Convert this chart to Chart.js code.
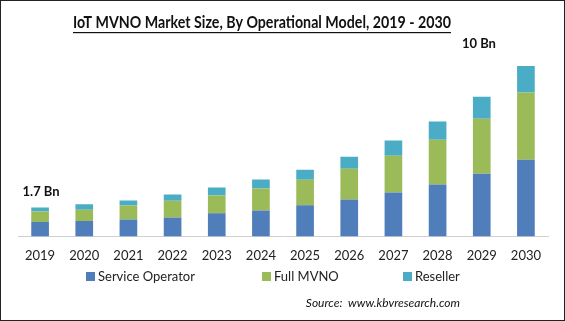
<!DOCTYPE html>
<html>
<head>
<meta charset="utf-8">
<script src="https://cdn.jsdelivr.net/npm/chart.js@4.4.1/dist/chart.umd.min.js"></script>
<style>
  html, body { margin: 0; padding: 0; background: #fff; }
  #wrap { width: 563px; height: 319px; border: 1px solid #222; position: relative; }
</style>
</head>
<body>
<div id="wrap"><canvas id="bar_chart"></canvas></div>
<script>
const years = ['2019', '2020', '2021', '2022', '2023', '2024', '2025', '2026', '2027', '2028', '2029', '2030'];
const serviceOperator = [0.84, 0.90, 0.99, 1.11, 1.36, 1.52, 1.83, 2.16, 2.57, 3.04, 3.68, 4.50];
const fullMvno = [0.62, 0.67, 0.82, 0.98, 1.04, 1.29, 1.50, 1.81, 2.16, 2.63, 3.22, 3.94];
const reseller = [0.24, 0.32, 0.29, 0.37, 0.47, 0.53, 0.58, 0.70, 0.90, 1.07, 1.29, 1.56];
const firstLabel = '1.7 Bn';
const lastLabel = '10 Bn';
const titleText = 'IoT MVNO Market Size, By Operational Model, 2019 - 2030';
const sourceText = 'Source:  www.kbvresearch.com';

const FONT = "Lato, 'Open Sans', sans-serif";
const legendX = [85, 261, 402];   // left edge of each legend box

// draws the underlined title, value labels, legend and source line
const extras = {
    id: 'extras',
    afterDraw(chart) {
        const c = chart.ctx;
        const x = chart.scales.x;
        const y = chart.scales.y;
        c.save();
        c.fillStyle = '#111';
        c.textBaseline = 'middle';

        // title, squeezed a bit to look like the narrow original face
        c.font = 'bold 17px ' + FONT;
        c.textAlign = 'center';
        const w = c.measureText(titleText).width;
        const sx = 378 / w;
        c.save();
        c.translate(261, 0);
        c.scale(sx, 1);
        c.fillText(titleText, 0, 22);
        c.fillRect(-w / 2, 31, w, 1.2);
        c.restore();

        c.font = 'bold 13px ' + FONT;
        const tot0 = serviceOperator[0] + fullMvno[0] + reseller[0];
        c.fillText(firstLabel, x.getPixelForValue(0) + 1, y.getPixelForValue(tot0) - 16);
        const n = years.length - 1;
        const totN = serviceOperator[n] + fullMvno[n] + reseller[n];
        c.fillText(lastLabel, x.getPixelForValue(n) - 47, y.getPixelForValue(totN) - 22);

        // legend
        c.font = '13px ' + FONT;
        c.textAlign = 'left';
        chart.data.datasets.forEach((ds, i) => {
            c.fillStyle = ds.backgroundColor;
            c.fillRect(legendX[i], 271, 9, 9);
            c.fillStyle = '#222';
            c.fillText(ds.label, legendX[i] + 12, 276);
        });

        c.fillStyle = '#111';
        c.font = 'italic 12px ' + FONT;
        c.textAlign = 'right';
        c.fillText(sourceText, 459, 302);
        c.restore();
    }
};

const ctx = document.getElementById('bar_chart').getContext('2d');
const bar_chart = new Chart(ctx, {
    type: 'bar',
    data: {
        labels: years,
        datasets: [
            { label: 'Service Operator', data: serviceOperator, backgroundColor: '#4F7EBB' },
            { label: 'Full MVNO', data: fullMvno, backgroundColor: '#9BBB59' },
            { label: 'Reseller', data: reseller, backgroundColor: '#4BACC6' }
        ]
    },
    options: {
        responsive: true,
        maintainAspectRatio: false,
        animation: false,
        datasets: {
            bar: { barPercentage: 0.8, categoryPercentage: 0.5 }
        },
        layout: {
            padding: { top: 48, left: 17, right: 16, bottom: 44 }
        },
        scales: {
            x: {
                stacked: true,
                grid: { display: false, drawTicks: false },
                border: { display: true, color: '#d0d0d0', width: 1 },
                ticks: {
                    color: '#222',
                    padding: 12,
                    font: { family: FONT, size: 13 }
                }
            },
            y: {
                stacked: true,
                display: false,
                min: 0,
                max: 11
            }
        },
        plugins: {
            legend: { display: false },
            title: { display: false },
            tooltip: { enabled: false }
        }
    },
    plugins: [extras]
});
</script>
</body>
</html>
